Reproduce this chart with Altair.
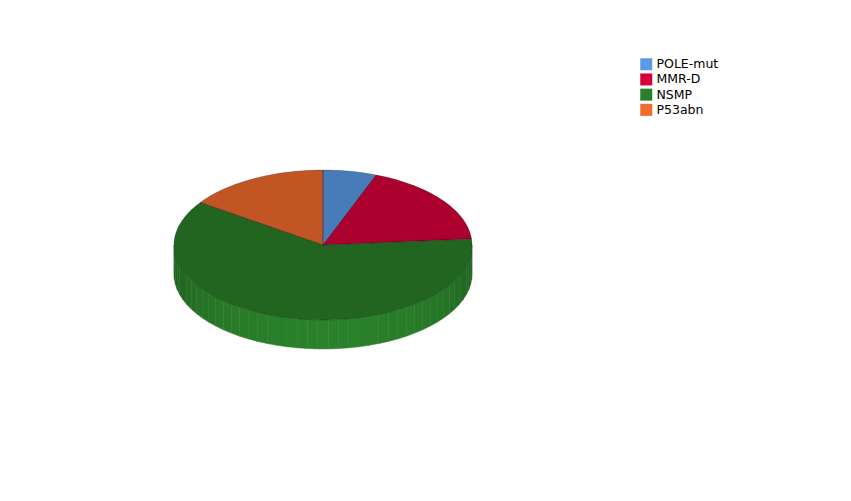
import math
import numpy as np
import pandas as pd
import altair as alt

# ---- data ----
categories = ["POLE-mut", "MMR-D", "NSMP", "P53abn"]
values = [5.8, 17.9, 60.9, 15.4]
legend_colors = ["#5b9be6", "#d7003a", "#2a7f2a", "#f26b2e"]

# ---- geometry of the tilted pie (abstract units, fitted by the projection) ----
RX, RY, DEPTH = 1.0, 0.503, 0.195


def pt(theta_deg, y0=0.0):
    t = math.radians(theta_deg)
    return [RX * math.sin(t), RY * math.cos(t) + y0]


def shade(hex_color, f):
    h = hex_color.lstrip("#")
    r, g, b = (int(h[i:i + 2], 16) for i in (0, 2, 4))
    return "#%02x%02x%02x" % tuple(min(255, int(round(c * f))) for c in (r, g, b))


total = sum(values)
bounds = np.cumsum([0] + values) / total * 360.0

top_features, side_features = [], []
for i, cat in enumerate(categories):
    a0, a1 = bounds[i], bounds[i + 1]
    n = max(4, int((a1 - a0) / 2))
    ring = [[0.0, 0.0]] + [pt(a) for a in np.linspace(a0, a1, n)] + [[0.0, 0.0]]
    top_features.append({"type": "Feature", "properties": {"cat": cat},
                         "geometry": {"type": "Polygon", "coordinates": [ring]}})
    s0, s1 = max(a0, 90.0), min(a1, 270.0)
    if s1 > s0:
        steps = np.linspace(s0, s1, max(2, int((s1 - s0) / 4)) + 1)
        for b0, b1 in zip(steps[:-1], steps[1:]):
            mid = math.radians((b0 + b1) / 2)
            f = 0.74 + 0.28 * max(0.0, -math.cos(mid))
            col = shade(legend_colors[i], f)
            poly = [pt(b0), pt(b1), pt(b1, -DEPTH), pt(b0, -DEPTH), pt(b0)]
            side_features.append({"type": "Feature", "properties": {"cat": cat, "col": col},
                                  "geometry": {"type": "Polygon", "coordinates": [poly]}})

PROJ = dict(type="identity", reflectY=True)

side = alt.Chart(alt.Data(values=side_features)).mark_geoshape(strokeWidth=0.5).encode(
    fill=alt.Fill("properties.col:N", scale=None),
    stroke=alt.Stroke("properties.col:N", scale=None),
).project(**PROJ)

top = alt.Chart(alt.Data(values=top_features)).mark_geoshape(strokeWidth=0).encode(
    color=alt.Color(
        "properties.cat:N",
        scale=alt.Scale(domain=categories, range=legend_colors),
        sort=categories,
        legend=alt.Legend(title=None, orient="none", legendX=466, legendY=-112,
                          symbolType="square", symbolSize=144, symbolStrokeWidth=0,
                          labelFontSize=12.5, labelFont="DejaVu Sans", labelColor="#000",
                          padding=0, rowPadding=2.2, labelOffset=4),
    )
).project(**PROJ)

overlay = alt.Chart(alt.Data(values=top_features)).mark_geoshape(
    fill="#000", fillOpacity=0.2, stroke="#000", strokeOpacity=0.35, strokeWidth=0.6
).encode(detail=alt.Detail("properties.cat:N")).project(**PROJ)

chart = alt.layer(side, top, overlay).resolve_scale(
    color="independent", fill="independent", stroke="independent"
).properties(
    width=298, height=179,
    padding={"left": 166, "top": 162, "right": 371, "bottom": 144},
    autosize="none",
).configure_view(stroke=None)

chart.save("out.html", embed_options={"renderer": "svg", "actions": False})
